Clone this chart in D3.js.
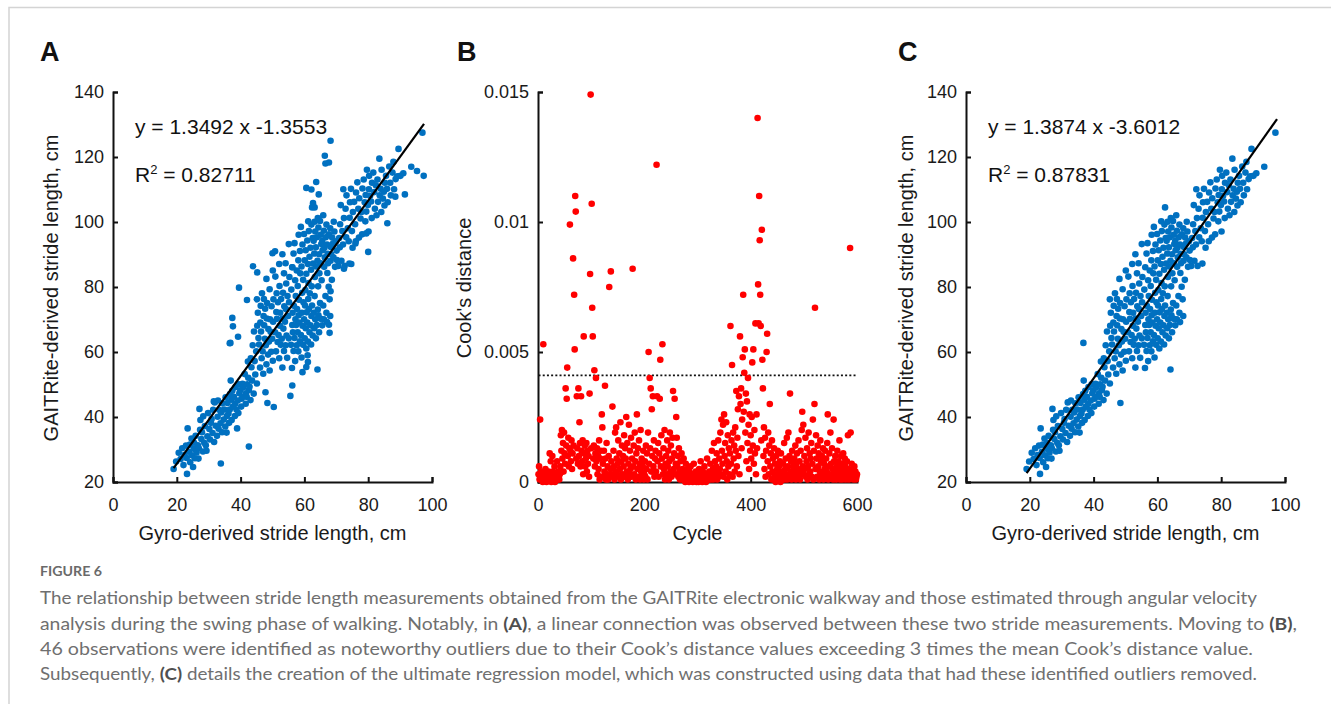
<!DOCTYPE html>
<html>
<head>
<meta charset="utf-8">
<script src="https://cdn.jsdelivr.net/npm/d3@7"></script>
<style>
  html, body { margin: 0; padding: 0; background: #fff; }
  svg { display: block; }
</style>
</head>
<body>
<svg id="fig" width="1331" height="704"></svg>
<script>
// ---- data ----

// panel C: stride pairs kept after outlier removal [gyro cm, GAITRite cm]
const CLEAN_POINTS = [
  [19,24],[19.8,26.3],[20.6,29],[21.2,27.1],[21.7,30.4],[22.1,25.2],[22.4,28.3],[22.9,31.2],[23.2,22.5],[23.1,27.4],[23.4,36.5],[23.8,29.3],[24.2,26.1],[24.1,31.5],[24.7,28.2],[24.6,33.4],[25.1,24.6],[25.3,30.2],[25.7,27.3],[25.4,32.1],
  [26.2,29.1],[25.9,34.2],[26.6,31.3],[26.8,27.2],[27.1,42.5],[27.3,36.1],[26.9,30.4],[27.7,33.2],[27.4,39.1],[28.2,29.4],[27.9,35.3],[28.6,32.1],[28.3,40.2],[29.1,31.3],[28.8,37.2],[29.6,34.1],[29.3,29.6],[30.2,36.3],[29.8,41.2],[30.4,33.1],[30.7,38.2],
  [31.2,35.1],[30.9,39.4],[31.7,32.3],[31.4,42.2],[32.2,37.3],[31.9,44.5],[32.6,34.2],[32.8,40.1],[33.1,36.4],[33.3,42.2],[32.9,45.1],[33.7,38.1],[34.2,35.3],[33.9,41.4],[34.3,44.2],[34.7,39.2],[35.2,37.1],[34.9,42.3],[35.3,46.1],[35.7,40.3],[35.6,35.2],
  [36.2,41.1],[35.9,44.3],[36.4,38.2],[36.7,47.1],[36.6,42.3],[36.8,62.8],[37.2,39.1],[37.1,45.3],[36.9,51.2],[37.6,43.2],[37.4,48.1],[38.2,40.3],[37.9,46.2],[38.3,44.1],[38.7,42.3],[38.4,49.2],[39.1,45.1],[39.3,41.2],[39.6,47.3],[39.4,50.1],[40.2,43.2],[39.9,48.2],[40.3,45.6],
  [40.6,50.2],[41.1,46.3],[40.8,49.1],[41.3,53.2],[41.6,44.1],[41.7,47.3],[42.1,50.1],[41.9,46.2],[42.3,57.1],[42.6,48.3],[42.4,52.1],[43.1,45.2],[42.8,49.3],[43.2,58.1],[43.6,51.2],[43.4,55.3],[44.1,47.2],[43.8,62.1],[44.2,66.3],[44.6,53.1],[44.4,57.2],[45.1,50.3],[44.9,60.2],[45.2,68.1],[45.1,76.2],[45.6,64.3],[45.4,72.1],
  [46.1,55.2],[45.8,62.3],[46.2,69.1],[46.3,74.2],[46.6,58.1],[46.4,66.3],[46.7,78.1],[47.1,53.3],[46.9,60.2],[47.2,71.1],[47.3,76.3],[47.6,64.1],[47.4,68.2],[47.7,73.3],[48.1,56.2],[47.9,62.1],[48.2,70.3],[48.3,75.1],[48.1,82.5],[48.4,44.3],[48.6,59.2],[48.7,67.1],[49.1,54.3],[48.9,63.2],[49.2,70.1],[49.1,79.3],[49.6,60.1],[49.4,66.2],[49.7,74.1],[50.1,57.3],[49.9,64.1],[50.2,69.3],[50.3,76.2],[50.1,85.1],
  [51.1,60.2],[50.8,66.1],[51.2,72.3],[51.3,78.1],[50.9,83.2],[51.6,63.1],[51.4,70.2],[51.7,75.3],[52.1,58.1],[51.9,65.2],[52.3,68.1],[52.2,80.3],[52.1,87.1],[52.6,62.2],[52.4,72.1],[52.7,76.3],[53.1,55.2],[52.9,64.1],[53.2,70.3],[53.3,78.2],[53.1,90.1],[53.6,60.3],[53.4,67.2],[53.7,74.1],[53.6,84.2],[54.1,62.1],[53.9,69.3],[54.2,73.2],[54.3,81.1],[54.1,87.3],[54.6,58.2],[54.4,65.1],[54.7,77.2],[55.1,64.2],[54.9,71.1],[55.2,75.3],[55.3,83.1],[55.1,93.2],
  [56.1,55.1],[55.8,62.2],[56.2,68.3],[56.3,72.1],[55.9,79.2],[56.2,86.1],[56.6,60.3],[56.4,66.1],[56.7,74.2],[56.6,90.3],[57.1,57.2],[56.9,64.3],[57.2,70.1],[57.3,77.2],[57.1,82.1],[56.9,93.5],[57.6,62.1],[57.4,68.3],[57.7,73.2],[57.6,85.1],[58.1,60.2],[57.9,66.1],[58.2,71.3],[58.3,76.1],[57.9,80.3],[58.1,88.2],[58.2,96.1],[58.6,63.3],[58.4,69.1],[58.7,84.2],[58.6,91.1],[59.1,58.3],[58.9,65.2],[59.2,72.1],[59.3,78.2],[59.1,86.3],[58.9,98.5],[59.6,62.2],[59.4,68.1],[59.7,75.3],[59.6,82.2],[59.4,93.1],[60.1,64.2],[59.9,70.1],[60.2,74.3],[60.3,79.1],[60.1,88.2],[59.9,96.3],
  [60.6,61.1],[60.4,67.3],[60.7,72.2],[60.6,84.1],[60.4,91.3],[61.1,63.2],[60.9,69.1],[61.2,76.3],[61.3,81.2],[61.1,87.1],[60.9,94.3],[61.2,100.2],[61.6,66.1],[61.4,73.2],[61.7,78.1],[61.6,89.3],[61.4,97.2],[62.1,62.3],[61.9,68.2],[62.2,71.1],[62.3,80.2],[62.1,85.3],[61.9,92.1],[62.2,99.2],[62.6,65.1],[62.4,74.3],[62.7,87.2],[62.6,95.1],[62.4,104.5],[63.1,67.3],[62.9,72.1],[63.2,77.2],[63.3,83.1],[63.1,90.3],[62.9,94.2],[63.2,100.1],[63.6,64.2],[63.4,70.1],[63.7,86.3],[63.6,92.2],[63.4,97.1],[64.1,54.6],[63.9,68.3],[64.2,73.1],[64.3,80.2],[64.1,88.1],[63.9,95.3],[64.2,101.2],[64.6,66.1],[64.4,71.3],[64.7,84.2],[64.6,90.1],[64.4,98.3],[65.1,70.2],[64.9,75.1],[65.2,87.3],[65.3,93.2],[65.1,96.1],[64.9,100.3],
  [65.6,68.2],[65.4,82.1],[65.7,91.3],[65.6,94.2],[66.1,70.1],[65.9,74.3],[66.2,86.2],[66.3,92.1],[66.1,97.3],[65.9,102.1],[66.6,77.2],[66.4,89.1],[66.7,95.3],[67.1,69.2],[66.9,72.1],[67.2,84.3],[67.3,90.2],[67.1,93.1],[66.9,99.2],[67.6,80.1],[67.4,87.3],[67.7,96.2],[68.1,71.1],[67.9,76.2],[68.2,88.1],[68.3,92.3],[68.1,98.1],[68.6,82.2],[68.4,90.1],[68.7,95.2],[69.1,89.1],[68.9,93.3],[69.2,100.1],[69.6,86.2],[69.4,97.1],[70.1,91.2],[69.9,94.1],[70.2,88.3],
  [70.6,86.5],[71.1,92.2],[70.9,95.1],[71.2,99.3],[71.6,88.1],[71.4,105.2],[72.1,93.1],[71.9,97.2],[72.2,110.1],[72.6,86.5],[72.4,101.2],[73.1,95.3],[72.9,104.1],[73.2,108.2],[73.6,98.1],[74.1,87.2],[73.9,94.1],[74.2,101.3],[74.3,106.1],[74.6,110.2],[75.1,92.1],[74.9,97.2],[75.2,103.1],
  [75.6,106.2],[76.1,94.1],[75.9,99.3],[76.2,109.1],[76.6,112.2],[77.1,95.2],[76.9,104.1],[77.2,107.3],[77.6,101.1],[78.1,96.2],[77.9,103.1],[78.2,110.3],[78.6,113.1],[79.1,100.2],[78.9,106.1],[79.2,108.3],[79.6,116.1],[79.4,103.2],[80.1,97.1],[79.9,105.2],[80.2,110.1],[80.3,114.2],
  [80.6,108.1],[81.1,101.2],[80.9,106.3],[81.2,112.1],[81.6,115.2],[82.1,104.1],[81.9,109.2],[82.6,102.1],[82.4,111.3],[83.1,106.2],[82.9,113.1],[83.6,108.2],[83.5,119.5],[84.1,103.1],[83.9,110.2],[84.2,116.1],[84.6,107.2],[85.1,105.1],[84.9,109.3],[85.2,112.1],[85.6,114.2],[86.1,106.1],[85.9,110.2],[86.6,117.1],[87.1,108.2],[86.9,112.1],[87.6,115.2],[88.1,110.1],[87.9,118.5],[88.6,113.2],[89.1,114.1],[89.5,122.5],[90.1,114.2],
  [91,115],[93.5,117],[97,127.5]
];

// the 46 pairs flagged by Cook's distance (present in A only)
const OUTLIER_POINTS = [
  [68.2,125],[66.4,120.4],[66.6,118],[67.7,118.3],[95.3,115.7],[97.4,114.2],[60.6,110.5],[62.2,110],[63.7,112.3],[62.7,105.8],
  [63.2,104.5],[86,99.6],[80,90.8],[43.9,86.4],[39.5,79.8],[37.4,70.5],[37.6,67.9],[36.6,62.7],[39.2,64.7],[50,90.4],
  [50.8,91],[55.6,46.5],[56.2,49.7],[47.8,47.6],[50.4,43.1],[42.6,30.9],[33.8,25.7],[67.7,68.4],[67.9,65.9],[68.2,78.7],
  [61,59],[61.1,56.9],[60.6,55.4],[59.4,53.8],[38.9,36.5],[76,93.4],[74.7,87.1],[72.4,85.6],[79.4,96.5],[56.2,86.1],
  [64.5,108.5],[45.2,84.5],[42,76],[88.5,107.8],[91.5,108.5],[31.6,44.8]
];

// regression fits printed on the panels
const FIT_A = { slope: 1.3492, intercept: -1.3553, label: 'y = 1.3492 x -1.3553', r2: '0.82711' };
const FIT_C = { slope: 1.3874, intercept: -3.6012, label: 'y = 1.3874 x -3.6012', r2: '0.87831' };
const FIT_X_RANGE = [19, 97.5];

// panel B: Cook's distance for cycles 1..600
const COOK_D = [
  .0003,.0006,.0001,.0024,.0002,.0004,.0001,.0002,.0000,.0053,.0003,.0001,.0002,.0005,.0001,.0000,.0002,.0003,.0001,.0004,
  .0001,.0011,.0003,.0008,.0000,.0002,.0010,.0004,.0001,.0002,.0006,.0000,.0003,.0001,.0002,.0008,.0001,.0004,.0002,.0001,
  .0003,.0006,.0018,.0012,.0020,.0009,.0015,.0004,.0019,.0011,.0007,.0036,.0014,.0032,.0044,.0010,.0017,.0006,.0013,.0099,
  .0012,.0008,.0016,.0005,.0011,.0086,.0014,.0072,.0051,.0110,.0104,.0009,.0033,.0013,.0007,.0036,.0010,.0023,.0015,.0006,
  .0033,.0012,.0008,.0016,.0003,.0056,.0011,.0014,.0006,.0009,.0015,.0004,.0012,.0007,.0010,.0002,.0034,.0080,.0149,.0013,
  .0107,.0067,.0056,.0009,.0014,.0043,.0006,.0011,.0040,.0008,.0013,.0003,.0010,.0005,.0016,.0001,.0009,.0012,.0002,.0026,
  .0021,.0007,.0002,.0012,.0004,.0037,.0009,.0001,.0015,.0003,.0006,.0001,.0010,.0075,.0002,.0005,.0081,.0008,.0003,.0029,
  .0002,.0012,.0006,.0001,.0019,.0004,.0021,.0009,.0003,.0007,.0016,.0002,.0011,.0005,.0023,.0001,.0008,.0014,.0003,.0010,
  .0006,.0018,.0002,.0013,.0009,.0025,.0004,.0015,.0001,.0007,.0022,.0003,.0012,.0005,.0017,.0002,.0009,.0082,.0006,.0014,
  .0003,.0019,.0008,.0001,.0011,.0026,.0005,.0013,.0002,.0016,.0007,.0001,.0020,.0004,.0009,.0002,.0006,.0012,.0001,.0003,
  .0008,.0002,.0014,.0005,.0011,.0001,.0019,.0050,.0007,.0040,.0013,.0036,.0004,.0028,.0010,.0033,.0006,.0016,.0002,.0009,
  .0012,.0004,.0122,.0033,.0008,.0015,.0002,.0011,.0032,.0047,.0006,.0018,.0009,.0053,.0003,.0013,.0005,.0020,.0001,.0007,
  .0010,.0003,.0016,.0006,.0012,.0001,.0008,.0019,.0004,.0014,.0002,.0009,.0017,.0035,.0005,.0011,.0032,.0003,.0007,.0025,
  .0017,.0006,.0010,.0002,.0013,.0004,.0001,.0008,.0003,.0011,.0001,.0005,.0002,.0009,.0001,.0004,.0000,.0007,.0002,.0003,
  .0001,.0005,.0002,.0000,.0004,.0001,.0006,.0002,.0001,.0003,.0000,.0002,.0007,.0001,.0003,.0001,.0004,.0000,.0002,.0001,
  .0002,.0000,.0005,.0001,.0003,.0008,.0001,.0002,.0000,.0004,.0001,.0003,.0006,.0001,.0002,.0000,.0003,.0009,.0001,.0002,
  .0001,.0004,.0002,.0007,.0001,.0003,.0012,.0002,.0005,.0001,.0015,.0003,.0008,.0002,.0006,.0011,.0001,.0004,.0016,.0002,
  .0009,.0005,.0019,.0003,.0024,.0012,.0007,.0022,.0002,.0026,.0010,.0015,.0004,.0023,.0008,.0001,.0018,.0006,.0013,.0003,
  .0011,.0060,.0007,.0016,.0045,.0002,.0019,.0009,.0014,.0004,.0021,.0012,.0035,.0006,.0017,.0028,.0010,.0033,.0003,.0056,
  .0030,.0036,.0013,.0024,.0048,.0072,.0027,.0042,.0051,.0019,.0034,.0008,.0031,.0015,.0040,.0022,.0005,.0026,.0012,.0018,
  .0009,.0025,.0046,.0014,.0051,.0007,.0020,.0011,.0061,.0003,.0026,.0013,.0140,.0076,.0061,.0110,.0093,.0072,.0060,.0016,
  .0097,.0047,.0036,.0010,.0021,.0005,.0017,.0002,.0012,.0050,.0057,.0008,.0019,.0003,.0014,.0030,.0006,.0011,.0001,.0016,
  .0004,.0009,.0001,.0013,.0003,.0007,.0000,.0010,.0002,.0005,.0012,.0001,.0006,.0003,.0008,.0000,.0011,.0002,.0004,.0001,
  .0007,.0002,.0015,.0001,.0005,.0009,.0003,.0017,.0001,.0006,.0019,.0002,.0010,.0034,.0004,.0008,.0001,.0012,.0003,.0006,
  .0002,.0009,.0004,.0014,.0001,.0007,.0011,.0003,.0005,.0016,.0002,.0008,.0001,.0012,.0004,.0020,.0027,.0006,.0022,.0003,
  .0010,.0005,.0017,.0002,.0008,.0013,.0001,.0006,.0019,.0003,.0011,.0004,.0009,.0015,.0002,.0007,.0024,.0001,.0012,.0030,
  .0067,.0005,.0018,.0009,.0002,.0014,.0006,.0011,.0001,.0004,.0016,.0008,.0002,.0010,.0003,.0013,.0001,.0007,.0005,.0012,
  .0002,.0009,.0004,.0015,.0026,.0001,.0006,.0011,.0003,.0019,.0007,.0002,.0013,.0005,.0001,.0024,.0008,.0003,.0010,.0004,
  .0001,.0006,.0012,.0002,.0008,.0004,.0016,.0001,.0005,.0010,.0003,.0007,.0001,.0011,.0004,.0002,.0009,.0006,.0001,.0003,
  .0008,.0002,.0018,.0005,.0001,.0004,.0090,.0019,.0003,.0007,.0002,.0005,.0001,.0003,.0006,.0002,.0004,.0001,.0002,.0003
];
const COOK_THRESHOLD = 0.0041; // 3 x mean Cook's distance

// axes
const STRIDE_X_TICKS = [0, 20, 40, 60, 80, 100];
const STRIDE_Y_TICKS = [20, 40, 60, 80, 100, 120, 140];
const CYCLE_TICKS = [0, 200, 400, 600];
const COOK_TICKS = [0, 0.005, 0.01, 0.015];

const CAPTION_TITLE = 'FIGURE 6';
// each line: [text, bold]
const CAPTION_LINES = [
  [['The relationship between stride length measurements obtained from the GAITRite electronic walkway and those estimated through angular velocity', false]],
  [['analysis during the swing phase of walking. Notably, in ', false], ['(A)', true], [', a linear connection was observed between these two stride measurements. Moving to ', false], ['(B)', true], [',', false]],
  [['46 observations were identified as noteworthy outliers due to their Cook\u2019s distance values exceeding 3 times the mean Cook\u2019s distance value.', false]],
  [['Subsequently, ', false], ['(C)', true], [' details the creation of the ultimate regression model, which was constructed using data that had these identified outliers removed.', false]]
];
const CAPTION_WIDTHS = [1217, 1257, 1213, 1217];

// ---- layout ----
const W = 1331, H = 704;
const PLOT_TOP = 92, PLOT_BOTTOM = 482;
const BLUE = '#0070c0', RED = '#ff0000';
const DOT_R = 3.3;
const FONT = 'Arial, "Liberation Sans", sans-serif';

const svg = d3.select('#fig');
svg.append('rect').attr('width', W).attr('height', H).attr('fill', '#fff');
svg.append('path')
  .attr('d', `M9,${H} V7.5 H${W}`)
  .attr('fill', 'none').attr('stroke', '#d4d4d4').attr('stroke-width', 1.5);

function drawFrame(cfg) {
  const g = svg.append('g');
  const x = d3.scaleLinear().domain(cfg.xDomain).range([cfg.left, cfg.right]);
  const y = d3.scaleLinear().domain(cfg.yDomain).range([PLOT_BOTTOM, PLOT_TOP]);

  const xAxis = d3.axisBottom(x).tickValues(cfg.xTicks).tickSize(-5).tickPadding(16)
    .tickFormat(cfg.xFormat || d3.format('d'));
  const yAxis = d3.axisLeft(y).tickValues(cfg.yTicks).tickSize(-5).tickPadding(9)
    .tickFormat(cfg.yFormat || d3.format('d'));

  const gx = g.append('g').attr('transform', `translate(0,${PLOT_BOTTOM})`).call(xAxis);
  const gy = g.append('g').attr('transform', `translate(${cfg.left},0)`).call(yAxis);
  [gx, gy].forEach(a => {
    a.selectAll('.domain, line').attr('stroke', '#111').attr('stroke-width', 2);
    a.selectAll('text').attr('font-family', FONT).attr('font-size', 18).attr('fill', '#1a1a1a');
  });

  // panel letter
  g.append('text').attr('x', cfg.letterX).attr('y', 61)
    .attr('font-family', FONT).attr('font-weight', 'bold').attr('font-size', 27).attr('fill', '#111')
    .text(cfg.letter);

  // axis titles
  g.append('text')
    .attr('transform', `translate(${cfg.yTitleX},288) rotate(-90)`)
    .attr('text-anchor', 'middle').attr('font-family', FONT).attr('font-size', 20).attr('fill', '#1a1a1a')
    .text(cfg.yTitle);
  g.append('text')
    .attr('x', (cfg.left + cfg.right) / 2).attr('y', 540)
    .attr('text-anchor', 'middle').attr('font-family', FONT).attr('font-size', 20).attr('fill', '#1a1a1a')
    .text(cfg.xTitle);

  return { g, x, y };
}

function strideFit(panel, points, fit, left) {
  const { g, x, y } = panel;
  g.append('g').selectAll('circle')
    .data(points).join('circle')
    .attr('cx', d => x(d[0])).attr('cy', d => y(d[1]))
    .attr('r', DOT_R).attr('fill', BLUE);

  g.append('line')
    .attr('x1', x(FIT_X_RANGE[0])).attr('y1', y(fit.slope * FIT_X_RANGE[0] + fit.intercept))
    .attr('x2', x(FIT_X_RANGE[1])).attr('y2', y(fit.slope * FIT_X_RANGE[1] + fit.intercept))
    .attr('stroke', '#000').attr('stroke-width', 2.2);

  const tx = left + 22;
  g.append('text').attr('x', tx).attr('y', 134)
    .attr('font-family', FONT).attr('font-size', 21).attr('fill', '#111')
    .text(fit.label);
  const r = g.append('text').attr('x', tx).attr('y', 182)
    .attr('font-family', FONT).attr('font-size', 21).attr('fill', '#111');
  r.append('tspan').text('R');
  r.append('tspan').attr('dy', -8).attr('font-size', 13).text('2');
  r.append('tspan').attr('dy', 8).text(' = ' + fit.r2);
}

// ---- panel A ----
const panelA = drawFrame({
  left: 113, right: 432, xDomain: [0, 100], yDomain: [20, 140],
  xTicks: STRIDE_X_TICKS, yTicks: STRIDE_Y_TICKS,
  letter: 'A', letterX: 40, yTitleX: 58,
  yTitle: 'GAITRite-derived stride length, cm', xTitle: 'Gyro-derived stride length, cm'
});
strideFit(panelA, CLEAN_POINTS.concat(OUTLIER_POINTS), FIT_A, 113);

// ---- panel B ----
const panelB = drawFrame({
  left: 538, right: 857, xDomain: [0, 600], yDomain: [0, 0.015],
  xTicks: CYCLE_TICKS, yTicks: COOK_TICKS,
  yFormat: d => (d === 0 ? '0' : String(d)),
  letter: 'B', letterX: 457, yTitleX: 470.5,
  yTitle: "Cook's distance", xTitle: 'Cycle'
});
panelB.g.append('line')
  .attr('x1', panelB.x(1)).attr('x2', panelB.x(600))
  .attr('y1', panelB.y(COOK_THRESHOLD)).attr('y2', panelB.y(COOK_THRESHOLD))
  .attr('stroke', '#111').attr('stroke-width', 1.6).attr('stroke-dasharray', '2,2.2');
panelB.g.append('g').selectAll('circle')
  .data(COOK_D).join('circle')
  .attr('cx', (d, i) => panelB.x(i + 1)).attr('cy', d => panelB.y(d))
  .attr('r', DOT_R).attr('fill', RED);

// ---- panel C ----
const panelC = drawFrame({
  left: 966, right: 1285, xDomain: [0, 100], yDomain: [20, 140],
  xTicks: STRIDE_X_TICKS, yTicks: STRIDE_Y_TICKS,
  letter: 'C', letterX: 898, yTitleX: 912.5,
  yTitle: 'GAITRite-derived stride length, cm', xTitle: 'Gyro-derived stride length, cm'
});
strideFit(panelC, CLEAN_POINTS, FIT_C, 966);

// ---- caption ----
const CAP_FONT = 'Lato, "Open Sans", sans-serif';
svg.append('text').attr('x', 40).attr('y', 576)
  .attr('font-family', CAP_FONT).attr('font-weight', 'bold').attr('font-size', 13)
  .attr('fill', '#6a6a6a').attr('textLength', 62).attr('lengthAdjust', 'spacingAndGlyphs')
  .text(CAPTION_TITLE);

const baselines = [604, 630, 655, 680];
CAPTION_LINES.forEach((segs, i) => {
  const t = svg.append('text').attr('x', 40).attr('y', baselines[i])
    .attr('font-family', CAP_FONT).attr('font-size', 17).attr('fill', '#6f6f6f')
    .attr('textLength', CAPTION_WIDTHS[i]).attr('lengthAdjust', 'spacingAndGlyphs')
    .style('white-space', 'pre');
  segs.forEach(([txt, bold]) => {
    const s = t.append('tspan').text(txt);
    if (bold) s.attr('font-weight', 'bold').attr('fill', '#4f4f4f');
  });
});
</script>
</body>
</html>
